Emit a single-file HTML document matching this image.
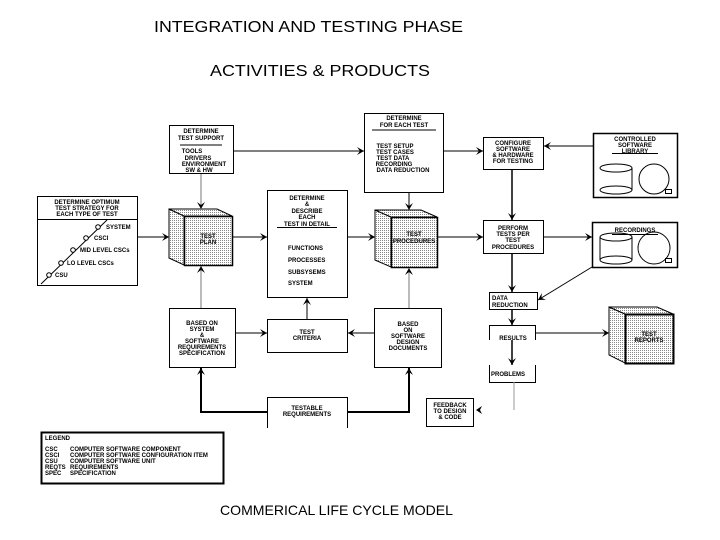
<!DOCTYPE html>
<html><head><meta charset="utf-8"><style>
html,body{margin:0;padding:0;background:#fff;}
svg{display:block;}
text{font-family:"Liberation Sans",Arial,sans-serif;fill:#000;}
.s{font-size:6px;}
</style></head><body>
<svg width="720" height="540" viewBox="0 0 720 540" xmlns="http://www.w3.org/2000/svg">
<defs>
<pattern id="dots" width="2" height="2" patternUnits="userSpaceOnUse"><rect width="2" height="2" fill="#fff"/><rect width="1" height="1" fill="#888"/></pattern>
<marker id="a" markerWidth="8" markerHeight="8" refX="7" refY="4" orient="auto" markerUnits="userSpaceOnUse"><path d="M0,0 L7,4 L0,8 L3,4 Z" fill="#000"/></marker>
</defs>
<text x="154" y="32" font-size="16" textLength="309" lengthAdjust="spacingAndGlyphs">INTEGRATION AND TESTING PHASE</text>
<text x="210" y="76" font-size="16" textLength="220" lengthAdjust="spacingAndGlyphs">ACTIVITIES &amp; PRODUCTS</text>
<text x="220" y="515" font-size="14" textLength="233" lengthAdjust="spacingAndGlyphs">COMMERICAL LIFE CYCLE MODEL</text>

<g fill="none" stroke="#000" stroke-width="1">
<rect x="169.5" y="125.5" width="64" height="48"/>
<rect x="364.5" y="113.5" width="79" height="79"/>
<rect x="483.5" y="137.5" width="60" height="32"/>
<rect x="593.5" y="133.5" width="84" height="64" stroke-width="1.5"/>
<rect x="37.5" y="196.5" width="100" height="89"/>
<rect x="267.5" y="190.5" width="80" height="107"/>
<rect x="483.5" y="220.5" width="60" height="33"/>
<rect x="592.5" y="222.5" width="85" height="45" stroke-width="1.5"/>
<rect x="489.5" y="292.5" width="48" height="17"/>
<path d="M489.5,340 V325.5 H535.5 V340"/>
<path d="M489.5,365 V382.5 H535.5 V365"/>
<rect x="169.5" y="308.5" width="66" height="59"/>
<rect x="267.5" y="319.5" width="80" height="33"/>
<rect x="374.5" y="308.5" width="67" height="59"/>
<path d="M267.5,428 V397.5 H347.5 V428"/>
<rect x="426.5" y="398.5" width="47" height="28"/>
<rect x="41.5" y="432.5" width="182" height="51" stroke-width="2"/>
<line x1="180" y1="145" x2="222" y2="145"/>
<line x1="372" y1="130" x2="436" y2="130"/>
<line x1="37" y1="219.5" x2="137" y2="219.5"/>
<line x1="277" y1="227.5" x2="337" y2="227.5"/>
<line x1="612" y1="153.5" x2="658" y2="153.5"/>
<line x1="612" y1="234.5" x2="658" y2="234.5"/>
<line x1="41" y1="284" x2="107" y2="220"/>
<circle cx="98" cy="227" r="2.3" fill="#fff"/>
<circle cx="86" cy="238" r="2.3" fill="#fff"/>
<circle cx="73" cy="250" r="2.3" fill="#fff"/>
<circle cx="61" cy="263" r="2.3" fill="#fff"/>
<circle cx="49" cy="275" r="2.3" fill="#fff"/>
<ellipse cx="616" cy="168" rx="16" ry="4"/>
<ellipse cx="616" cy="190" rx="16" ry="4"/>
<line x1="632" y1="168" x2="632" y2="190"/>
<circle cx="654" cy="179" r="15"/>
<rect x="665.5" y="189.5" width="6" height="4"/>
<ellipse cx="616" cy="237" rx="16" ry="4"/>
<ellipse cx="616" cy="260" rx="16" ry="4"/>
<line x1="600" y1="237" x2="600" y2="260"/>
<line x1="632" y1="237" x2="632" y2="260"/>
<circle cx="654" cy="248" r="16"/>
<rect x="665.5" y="258.5" width="6" height="4"/>
</g>

<g stroke="#000" stroke-width="1">
<path d="M169,209 L184,216 L184,265 L169,258 Z" fill="url(#dots)"/>
<path d="M169,209 L217,209 L232,216 L184,216 Z" fill="url(#dots)"/>
<rect x="184.5" y="216.5" width="48" height="49" fill="url(#dots)" stroke-width="1.5"/>
<path d="M375,210 L391,217 L391,267 L375,260 Z" fill="url(#dots)"/>
<path d="M375,210 L421,210 L437,217 L391,217 Z" fill="url(#dots)"/>
<rect x="391.5" y="217.5" width="46" height="50" fill="url(#dots)" stroke-width="1.5"/>
<path d="M609,307 L625,314 L625,363 L609,355 Z" fill="url(#dots)"/>
<path d="M609,307 L657,307 L673,314 L625,314 Z" fill="url(#dots)"/>
<rect x="625.5" y="314.5" width="48" height="49" fill="url(#dots)" stroke-width="2"/>
</g>

<g fill="none" stroke="#000" stroke-width="1" marker-end="url(#a)">
<line x1="234" y1="151" x2="364" y2="151"/>
<line x1="201" y1="174" x2="201" y2="209" stroke="#777"/>
<line x1="137" y1="237" x2="169" y2="237"/>
<line x1="232" y1="237" x2="267" y2="237"/>
<line x1="347" y1="237" x2="375" y2="237"/>
<line x1="409" y1="192" x2="409" y2="210"/>
<line x1="437" y1="237" x2="483" y2="237"/>
<line x1="443" y1="151" x2="483" y2="151"/>
<line x1="593" y1="146" x2="544" y2="146"/>
<line x1="512" y1="169" x2="512" y2="220" stroke-width="1.5"/>
<line x1="543" y1="237" x2="592" y2="237"/>
<line x1="512" y1="253" x2="512" y2="292" stroke-width="1.5"/>
<line x1="592" y1="267" x2="538" y2="300"/>
<line x1="512" y1="310" x2="512" y2="325" stroke-width="1.5"/>
<line x1="535" y1="333" x2="609" y2="333"/>
<line x1="512" y1="340" x2="512" y2="365" stroke-width="1.5"/>
<line x1="235" y1="333" x2="267" y2="333"/>
<line x1="374" y1="333" x2="348" y2="333"/>
<line x1="307" y1="319" x2="307" y2="298"/>
<line x1="201" y1="308" x2="201" y2="266" stroke="#777"/>
<line x1="409" y1="308" x2="409" y2="268" stroke="#777"/>
<path d="M267,412 H201 V368" stroke-width="2"/>
<path d="M347,412 H409 V368" stroke-width="2"/>
</g>
<line x1="514" y1="382" x2="514" y2="410" stroke="#999"/>

<g class="s" text-anchor="middle" font-weight="bold">
<text x="201" y="133">DETERMINE</text><text x="201" y="140">TEST SUPPORT</text>
<text x="192" y="153">TOOLS</text><text x="198" y="160">DRIVERS</text><text x="204" y="166">ENVIRONMENT</text><text x="199" y="172">SW &amp; HW</text>
<text x="404" y="120">DETERMINE</text><text x="404" y="127">FOR EACH TEST</text>
<text x="395" y="148">TEST SETUP</text><text x="395" y="154">TEST CASES</text><text x="393" y="160">TEST DATA</text><text x="394" y="166">RECORDING</text><text x="403" y="172">DATA REDUCTION</text>
<text x="513" y="145">CONFIGURE</text><text x="513" y="151">SOFTWARE</text><text x="513" y="157">&amp; HARDWARE</text><text x="513" y="163">FOR TESTING</text>
<text x="635" y="141">CONTROLLED</text><text x="635" y="147">SOFTWARE</text><text x="635" y="153">LIBRARY</text>
<text x="87" y="204">DETERMINE OPTIMUM</text><text x="87" y="210">TEST STRATEGY FOR</text><text x="87" y="216">EACH TYPE OF TEST</text>
<text x="208" y="238">TEST</text><text x="208" y="244">PLAN</text>
<text x="307" y="200">DETERMINE</text><text x="307" y="206">&amp;</text><text x="307" y="213">DESCRIBE</text><text x="307" y="219">EACH</text><text x="307" y="226">TEST IN DETAIL</text>
<text x="414" y="236">TEST</text><text x="414" y="243">PROCEDURES</text>
<text x="513" y="230">PERFORM</text><text x="513" y="236">TESTS PER</text><text x="513" y="242">TEST</text><text x="513" y="249">PROCEDURES</text>
<text x="635" y="232">RECORDINGS</text>
<text x="513" y="340">RESULTS</text>
<text x="202" y="325">BASED ON</text><text x="202" y="331">SYSTEM</text><text x="202" y="337">&amp;</text><text x="202" y="343">SOFTWARE</text><text x="202" y="349">REQUIREMENTS</text><text x="202" y="355">SPECIFICATION</text>
<text x="307" y="334">TEST</text><text x="307" y="340">CRITERIA</text>
<text x="408" y="326">BASED</text><text x="408" y="332">ON</text><text x="408" y="338">SOFTWARE</text><text x="408" y="344">DESIGN</text><text x="408" y="350">DOCUMENTS</text>
<text x="649" y="336">TEST</text><text x="649" y="342">REPORTS</text>
<text x="307" y="410">TESTABLE</text><text x="307" y="416">REQUIREMENTS</text>
<text x="450" y="407">FEEDBACK</text><text x="450" y="413">TO DESIGN</text><text x="450" y="419">&amp; CODE</text>
</g>
<g class="s" font-weight="bold">
<text x="288" y="250">FUNCTIONS</text><text x="288" y="262">PROCESSES</text><text x="288" y="274">SUBSYSEMS</text><text x="288" y="285">SYSTEM</text>
<text x="106" y="229">SYSTEM</text><text x="94" y="240">CSCI</text><text x="80" y="252">MID LEVEL CSCs</text><text x="67" y="265">LO LEVEL CSCs</text><text x="55" y="277">CSU</text>
<text x="492" y="300">DATA</text><text x="492" y="307">REDUCTION</text>
<text x="491" y="376">PROBLEMS</text>
<text x="45" y="440">LEGEND</text>
<text x="45" y="451">CSC</text><text x="70" y="451">COMPUTER SOFTWARE COMPONENT</text>
<text x="45" y="457">CSCI</text><text x="70" y="457">COMPUTER SOFTWARE CONFIGURATION ITEM</text>
<text x="45" y="463">CSU</text><text x="70" y="463">COMPUTER SOFTWARE UNIT</text>
<text x="45" y="469">REQTS</text><text x="70" y="469">REQUIREMENTS</text>
<text x="45" y="475">SPEC</text><text x="70" y="475">SPECIFICATION</text>
</g>
<path d="M476,410 L482,406 L480,410 L482,414 Z" fill="#000"/>
</svg>
</body></html>
